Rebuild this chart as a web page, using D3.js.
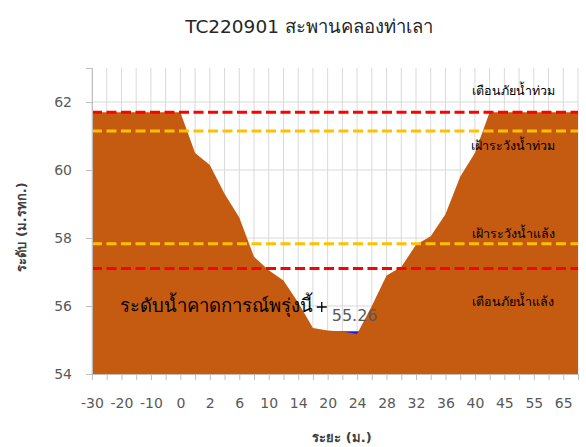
<!DOCTYPE html>
<html>
<head>
<meta charset="utf-8">
<script src="https://cdn.jsdelivr.net/npm/d3@7"></script>
<style>
  body { margin: 0; background: #fff; }
  text { font-family: Tahoma, "DejaVu Sans", "Noto Sans", sans-serif; }
</style>
</head>
<body>
<script>
// distance labels (category axis), every other one shown
const distances = ['-30','-25','-20','-15','-10','-5','0','1','2','4','6','8','10','12','14','17',
  '20','22','24','26','28','30','32','34','36','38','40','42','45','50','55','60','65','70']
// ground level at each distance (m. MSL)
const ground = [61.7,61.7,61.7,61.7,61.7,61.7,61.7,60.5,60.15,59.3,58.6,57.45,57.05,56.75,56.1,55.35,
  55.28,55.25,55.18,56.0,56.9,57.15,57.8,58.05,58.7,59.8,60.5,61.7,61.7,61.7,61.7,61.7,61.7,61.7]
const waterLevel = 55.26
const yTicks = [54, 56, 58, 60, 62]

// threshold lines
const thresholds = [
  { name: 'เตือนภัยน้ำท่วม', level: 61.7, color: '#ff0000', labelLevel: 62.3 },
  { name: 'เฝ้าระวังน้ำท่วม', level: 61.15, color: '#ffc000', labelLevel: 60.7 },
  { name: 'เฝ้าระวังน้ำแล้ง', level: 57.83, color: '#ffc000', labelLevel: 58.1 },
  { name: 'เตือนภัยน้ำแล้ง', level: 57.1, color: '#ff0000', labelLevel: 56.1 }
]
const forecastText = 'ระดับน้ำคาดการณ์พรุ่งนี้'
const forecastMarker = { idx: 15.6, level: 55.97 }

const W = 586, H = 447
const margin = { top: 68, right: 8, bottom: 73, left: 92 }
const w = W - margin.left - margin.right
const h = H - margin.top - margin.bottom

const svg = d3.select('body').append('svg')
  .attr('width', W).attr('height', H)

const g = svg.append('g').attr('transform', `translate(${margin.left},${margin.top})`)

const x = d3.scaleLinear().domain([0, distances.length - 1]).range([0, w])
const y = d3.scaleLinear().domain([54, 63]).range([h, 0])

// gridlines
g.selectAll('line.vgrid')
  .data(distances)
  .enter().append('line')
    .attr('class', 'vgrid')
    .attr('x1', (d, i) => x(i)).attr('x2', (d, i) => x(i))
    .attr('y1', 0).attr('y2', h)
    .attr('stroke', '#d9d9d9').attr('stroke-width', 1)

g.selectAll('line.hgrid')
  .data(yTicks.slice(1))
  .enter().append('line')
    .attr('class', 'hgrid')
    .attr('x1', 0).attr('x2', w)
    .attr('y1', d => y(d)).attr('y2', d => y(d))
    .attr('stroke', '#d9d9d9').attr('stroke-width', 1)

// water (only shows where ground is below it)
const water = d3.area()
  .x((d, i) => x(i))
  .y0(h)
  .y1(() => y(waterLevel))
g.append('path')
  .datum(distances)
  .attr('d', water)
  .attr('fill', '#1a1aff')

// ground
const area = d3.area()
  .x((d, i) => x(i))
  .y0(h)
  .y1(d => y(d))
g.append('path')
  .datum(ground)
  .attr('d', area)
  .attr('fill', '#c55a11')

// threshold dashed lines
g.selectAll('line.thr')
  .data(thresholds)
  .enter().append('line')
    .attr('class', 'thr')
    .attr('x1', 0).attr('x2', w)
    .attr('y1', d => y(d.level)).attr('y2', d => y(d.level))
    .attr('stroke', d => d.color)
    .attr('stroke-width', 3)
    .attr('stroke-dasharray', '10,4.5')

g.selectAll('text.thr')
  .data(thresholds)
  .enter().append('text')
    .attr('class', 'thr')
    .attr('x', 421)
    .attr('y', d => y(d.labelLevel))
    .attr('text-anchor', 'middle')
    .attr('dominant-baseline', 'middle')
    .attr('font-size', 12.5)
    .attr('fill', '#000')
    .text(d => d.name)

// forecast label and marker
g.append('text')
  .attr('x', x(forecastMarker.idx) - 9)
  .attr('y', y(forecastMarker.level) + 5)
  .attr('text-anchor', 'end')
  .attr('font-size', 18.5)
  .attr('fill', '#000')
  .text(forecastText)

const mx = x(forecastMarker.idx), my = y(forecastMarker.level)
g.append('path')
  .attr('d', `M${mx - 5},${my}H${mx + 5}M${mx},${my - 5}V${my + 5}`)
  .attr('fill', 'none')
  .attr('stroke', '#000')
  .attr('stroke-width', 1.3)

g.append('text')
  .attr('x', mx + 10)
  .attr('y', my + 14)
  .attr('font-size', 16)
  .attr('fill', '#595959')
  .text(waterLevel.toFixed(2))

// axes
const xAxis = d3.axisBottom(x)
  .tickValues(d3.range(distances.length))
  .tickSize(6)
  .tickFormat(i => (i % 2 === 0 ? distances[i] : ''))
const gx = g.append('g').attr('transform', `translate(0,${h})`).call(xAxis)
gx.select('.domain').attr('stroke', '#bfbfbf')
gx.selectAll('.tick line').attr('stroke', '#bfbfbf')
gx.selectAll('.tick text')
  .attr('y', 24)
  .attr('fill', '#595959')
  .attr('font-size', 14)
  .style('font-family', 'Tahoma, "DejaVu Sans", sans-serif')

const yAxis = d3.axisLeft(y).tickValues(yTicks).tickSize(6).tickPadding(14)
const gy = g.append('g').call(yAxis)
gy.select('.domain').attr('stroke', '#bfbfbf')
gy.selectAll('.tick line').attr('stroke', '#bfbfbf')
gy.selectAll('.tick text')
  .attr('fill', '#595959')
  .attr('font-size', 14)
  .style('font-family', 'Tahoma, "DejaVu Sans", sans-serif')

// titles
svg.append('text')
  .attr('x', 309).attr('y', 33)
  .attr('text-anchor', 'middle')
  .attr('font-size', 18.5)
  .attr('fill', '#262626')
  .text('TC220901 สะพานคลองท่าเลา')

svg.append('text')
  .attr('transform', 'translate(26,227) rotate(-90)')
  .attr('text-anchor', 'middle')
  .attr('font-size', 13)
  .attr('font-weight', 'bold')
  .attr('fill', '#404040')
  .text('ระดับ (ม.รทก.)')

svg.append('text')
  .attr('x', 342).attr('y', 442)
  .attr('text-anchor', 'middle')
  .attr('font-size', 13)
  .attr('font-weight', 'bold')
  .attr('fill', '#404040')
  .text('ระยะ (ม.)')
</script>
</body>
</html>
